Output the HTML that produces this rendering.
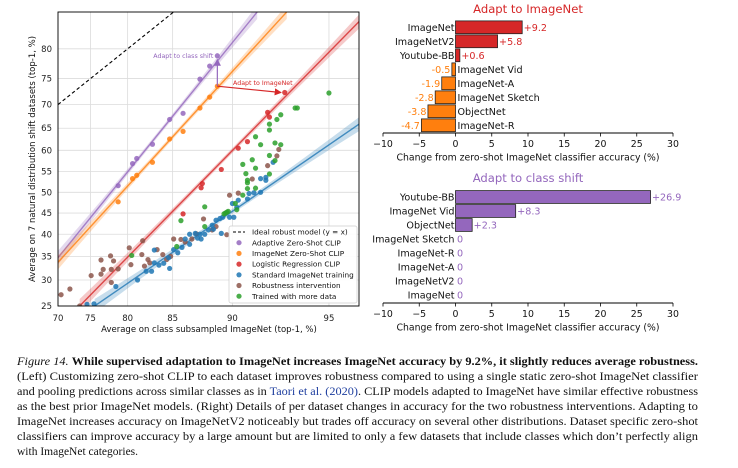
<!DOCTYPE html>
<html><head><meta charset="utf-8"><style>
html,body{margin:0;padding:0;background:#fff;}
svg{display:block;}
text{font-family:"DejaVu Sans","Liberation Sans",sans-serif;}
.cap{font-family:"Liberation Serif",serif;font-size:11.5px;fill:#111;}
</style></head><body>
<svg id="fig" width="738" height="468" viewBox="0 0 738 468" xmlns="http://www.w3.org/2000/svg">
<defs>
<clipPath id="clipS"><rect x="58" y="12" width="301" height="294"/></clipPath>
<marker id="ahP" markerWidth="6" markerHeight="6" refX="5" refY="3" orient="auto"><path d="M0,0 L6,3 L0,6 z" fill="#9467bd"/></marker>
<marker id="ahR" markerWidth="6" markerHeight="6" refX="5" refY="3" orient="auto"><path d="M0,0 L6,3 L0,6 z" fill="#d62728"/></marker>
</defs>
<g id="scatter"></g>
<g id="bars1"></g>
<g id="bars2"></g>
<g>
<text class="cap" x="17" y="365" textLength="681" lengthAdjust="spacingAndGlyphs"><tspan font-style="italic">Figure 14.</tspan> <tspan font-weight="bold">While supervised adaptation to ImageNet increases ImageNet accuracy by 9.2%, it slightly reduces average robustness.</tspan></text>
<text class="cap" x="17" y="380" textLength="681" lengthAdjust="spacingAndGlyphs">(Left) Customizing zero-shot CLIP to each dataset improves robustness compared to using a single static zero-shot ImageNet classifier</text>
<text class="cap" x="17" y="395" textLength="681" lengthAdjust="spacingAndGlyphs">and pooling predictions across similar classes as in <tspan fill="#1f3f9f">Taori et al. (2020)</tspan>. CLIP models adapted to ImageNet have similar effective robustness</text>
<text class="cap" x="17" y="410" textLength="681" lengthAdjust="spacingAndGlyphs">as the best prior ImageNet models. (Right) Details of per dataset changes in accuracy for the two robustness interventions. Adapting to</text>
<text class="cap" x="17" y="425" textLength="681" lengthAdjust="spacingAndGlyphs">ImageNet increases accuracy on ImageNetV2 noticeably but trades off accuracy on several other distributions. Dataset specific zero-shot</text>
<text class="cap" x="17" y="440" textLength="681" lengthAdjust="spacingAndGlyphs">classifiers can improve accuracy by a large amount but are limited to only a few datasets that include classes which don’t perfectly align</text>
<text class="cap" x="17" y="455">with ImageNet categories.</text>
</g>
</svg>
<script>
// ---------- scatter data (x = class-subsampled ImageNet %, y = 7-dataset avg %) ----------
const adaptiveX = [78.8,80.6,81.1,82.9,84.7,86.0,87.5,88.3,88.9];
const adaptiveY = [51.6,56.9,58.1,61.4,66.9,68.2,74.9,77.2,78.9];
const zeroShotX = [78.8,80.6,81.1,82.9,84.7,86.0,87.5,88.3,88.9];
const zeroShotY = [47.7,53.3,54.1,57.2,62.6,64.3,69.3,71.5,73.6];
const logregX = [86.0,87.6,87.7,89.2,90.4,91.0,92.2,92.3,93.1];
const logregY = [44.8,51.1,52.1,55.5,60.5,62.0,68.4,67.4,72.4];
const standardX = [74.5,75.5,78.5,81.2,82.2,82.8,83.1,83.6,84.1,84.6,85.1,85.5,85.9,86.2,86.6,87.1,87.3,87.6,87.9,88.2,88.5,88.8,89.1,89.3,89.8,90.1,90.0,90.4,90.3,91.0,91.1,91.4,91.8,91.8,92.1,92.1,92.5,89.2,83.1,84.7,88.6,87.5,86.6];
const standardY = [25.3,25.4,28.7,30.0,31.8,31.8,33.6,33.1,33.5,34.7,36.5,35.8,37.0,38.9,37.7,40.2,39.1,38.9,40.0,41.0,42.1,43.3,43.7,44.0,44.0,44.0,47.3,48.1,46.4,48.4,49.7,49.9,50.0,53.3,53.6,52.9,57.2,40.2,36.4,32.4,41.2,40.0,40.0];
const robustX = [70.5,71.9,73.4,75.1,76.5,76.5,76.8,77.8,77.9,78.2,77.9,78.8,80.2,80.4,81.7,81.8,82.0,82.4,82.6,83.4,84.0,84.4,84.8,85.1,85.8,86.2,86.8,87.2,87.8,88.5,88.8,89.6,89.8,90.4,91.3,92.2,92.7,92.8];
const robustY = [27.1,28.2,25.0,30.9,34.2,31.2,32.2,35.1,32.2,34.0,29.5,32.3,36.9,33.2,35.4,38.5,32.9,34.3,33.6,36.5,35.4,34.3,35.0,38.9,38.8,38.2,38.9,40.1,43.6,41.0,41.8,39.9,49.3,49.8,53.2,56.4,58.7,60.2];
const moreDataX = [95.0,93.6,93.7,92.9,92.7,92.3,92.3,91.5,91.8,92.6,92.9,92.3,92.6,91.3,91.5,90.7,90.9,91.0,91.0,91.0,91.5,92.3,90.7,90.3,90.2,89.5,89.6,89.7,89.4,87.9,85.8,87.9,85.4,80.5];
const moreDataY = [72.3,69.3,69.3,67.9,66.9,65.9,64.6,63.1,61.3,61.7,61.3,58.8,57.6,57.8,55.8,56.7,54.5,52.9,52.3,50.9,51.0,54.4,49.3,45.8,47.3,45.0,45.2,45.4,44.8,46.5,43.2,41.8,37.2,35.2];
// fitted trend lines: [x0,y0,x1,y1] in %
const fitAdaptive = [70,34.7,91.6,85.1];
const fitZeroShot = [70,33.7,93.2,85.1];
const fitLogreg = [73.4,25,96.0,83.9];
const fitStandard = [75.6,25,96.0,65.9];
const xTicks = [70,75,80,85,90,95];
const yTicks = [25,30,35,40,45,50,55,60,65,70,75,80];
const legendLabels = ["Ideal robust model (y = x)","Adaptive Zero-Shot CLIP","ImageNet Zero-Shot CLIP","Logistic Regression CLIP","Standard ImageNet training","Robustness intervention","Trained with more data"];

// ---------- bar data ----------
const imnetCats = ["ImageNet","ImageNetV2","Youtube-BB","ImageNet Vid","ImageNet-A","ImageNet Sketch","ObjectNet","ImageNet-R"];
const imnetVals = [9.2,5.8,0.6,-0.5,-1.9,-2.8,-3.8,-4.7];
const classCats = ["Youtube-BB","ImageNet Vid","ObjectNet","ImageNet Sketch","ImageNet-R","ImageNet-A","ImageNetV2","ImageNet"];
const classVals = [26.9,8.3,2.3,0,0,0,0,0];
const barTicks = [-10,-5,0,5,10,15,20,25,30];

const NS="http://www.w3.org/2000/svg";
function mk(parent,tag,attrs,txt){const e=document.createElementNS(NS,tag);for(const k in attrs)e.setAttribute(k,attrs[k]);if(txt!==undefined)e.textContent=txt;parent.appendChild(e);return e;}

// ---- scatter ----
const S=document.getElementById('scatter');
const lg=p=>Math.log(p/(100-p));
const X=p=>58+(lg(p)-lg(70))*129.2;
const Y=p=>306-(lg(p)-lg(25))*103.5;
xTicks.forEach(t=>{const l=mk(S,'line',{x1:X(t),x2:X(t),y1:12,y2:306,stroke:'#dcdcdc','stroke-width':0.8});


const tx=mk(S,'text',{x:X(t),y:321,'font-size':8.5,'text-anchor':'middle',fill:'#222'},t);

});
yTicks.forEach(t=>{const l=mk(S,'line',{x1:58,x2:359,y1:Y(t),y2:Y(t),stroke:'#dcdcdc','stroke-width':0.8});


const tx=mk(S,'text',{x:52,y:Y(t)+3,'font-size':8.5,'text-anchor':'end',fill:'#222'},t);

});
const P=mk(S,'g',{'clip-path':'url(#clipS)'});


// ideal line
const ideal=mk(P,'line',{x1:X(70),y1:Y(70),x2:X(86),y2:Y(86),stroke:'#000','stroke-width':1.1,'stroke-dasharray':'3.5,2.5'});


function fit(f,col,name){
  const x0=X(f[0]),y0=Y(f[1]),x1=X(f[2]),y1=Y(f[3]);
  const up=[],dn=[];
  for(let i=0;i<=20;i++){const t=i/20;const x=x0+(x1-x0)*t,y=y0+(y1-y0)*t;const w=2.5+9*Math.pow(Math.abs(t-0.5),2)*2;up.push(x+','+(y-w));dn.unshift(x+','+(y+w));}
  const b=mk(P,'polygon',{points:up.concat(dn).join(' '),fill:col,'fill-opacity':0.25});
  
  
  const l=mk(P,'line',{x1:x0,y1:y0,x2:x1,y2:y1,stroke:col,'stroke-width':1.4,'stroke-opacity':0.8});
  
  
}
fit(fitAdaptive,'#9467bd','adaptive-zero-shot');
fit(fitZeroShot,'#ff7f0e','imagenet-zero-shot');
fit(fitLogreg,'#d62728','logistic-regression');
fit(fitStandard,'#1f77b4','standard-training');
function pts(xs,ys,col,name){xs.forEach((x,i)=>{const c=mk(P,'circle',{cx:X(x),cy:Y(ys[i]),r:2.6,fill:col,'fill-opacity':0.85});

});}
pts(robustX,robustY,'#8c564b','robustness-intervention');
pts(standardX,standardY,'#1f77b4','standard-imagenet');
pts(moreDataX,moreDataY,'#2ca02c','trained-more-data');
pts(logregX,logregY,'#d62728','logistic-regression');
pts(zeroShotX,zeroShotY,'#ff7f0e','imagenet-zero-shot');
pts(adaptiveX,adaptiveY,'#9467bd','adaptive-zero-shot');
// annotations
const zi=zeroShotX.length-1;
const a1=mk(S,'line',{x1:X(zeroShotX[zi]),y1:Y(zeroShotY[zi]),x2:X(adaptiveX[zi]),y2:Y(adaptiveY[zi])+4,stroke:'#9467bd','stroke-width':1.2,'marker-end':'url(#ahP)'});


const a2=mk(S,'line',{x1:X(zeroShotX[zi]),y1:Y(zeroShotY[zi]),x2:X(logregX[8])-4,y2:Y(logregY[8]),stroke:'#d62728','stroke-width':1.2,'marker-end':'url(#ahR)'});


const t1=mk(S,'text',{x:X(adaptiveX[zi])-4,y:Y(adaptiveY[zi])+2,'font-size':6.3,'text-anchor':'end',fill:'#9467bd'},'Adapt to class shift');


const t2=mk(S,'text',{x:233,y:85,'font-size':6.3,fill:'#d62728'},'Adapt to ImageNet');


// frame
const fr=mk(S,'rect',{x:58,y:12,width:301,height:294,fill:'none',stroke:'#000','stroke-width':0.9});


const xt=mk(S,'text',{x:209,y:332,'font-size':8.5,'text-anchor':'middle',fill:'#111'},'Average on class subsampled ImageNet (top-1, %)');


const yt=mk(S,'text',{x:0,y:0,'font-size':8.5,'text-anchor':'middle',fill:'#111',transform:'translate(35,159) rotate(-90)'},'Average on 7 natural distribution shift datasets (top-1, %)');


// legend
const L=mk(S,'g',{});


const lb=mk(L,'rect',{x:229,y:226,width:128,height:77,fill:'#fff','fill-opacity':0.9,stroke:'#ccc','stroke-width':0.7,rx:2});


const legCols=['#000','#9467bd','#ff7f0e','#d62728','#1f77b4','#8c564b','#2ca02c'];
legendLabels.forEach((s,i)=>{const y=232+i*10.7;
 if(i===0){const m=mk(L,'line',{x1:233,x2:245,y1:y,y2:y,stroke:'#000','stroke-width':1.1,'stroke-dasharray':'3,2'});
 
 }
 else{const m=mk(L,'circle',{cx:239,cy:y,r:2.6,fill:legCols[i],'fill-opacity':0.85});
 
 }
 const t=mk(L,'text',{x:252,y:y+2.6,'font-size':7.3,fill:'#111'},s);
 
 });

// ---- bar charts ----
function barChart(gid,cats,vals,cfg){
 const G=document.getElementById(gid);
 const BX=v=>455.5+v*7.25;
 const tt=mk(G,'text',{x:528,y:cfg.titleY,'font-size':11.6,'text-anchor':'middle',fill:cfg.titleCol},cfg.title);
 
 
 cats.forEach((c,i)=>{const cy=cfg.y0+i*14;const v=vals[i];
  const pos=v>=0;const col=pos?cfg.posCol:cfg.negCol;const tcol=pos?cfg.posText:cfg.negText;
  const r=mk(G,'rect',{x:Math.min(BX(0),BX(v)),y:cy-6.4,width:Math.abs(BX(v)-BX(0)),height:12.8,fill:col,stroke:'#222','stroke-width':0.8});
  
  
  const lab=mk(G,'text',{x:pos?BX(0)-1:BX(0)+2,y:cy+3.5,'font-size':9.6,'text-anchor':pos?'end':'start',fill:'#111'},c);
  
  
  const vs=v>0?'+'+v:(v===0?'0':String(v).replace('-','-'));
  const vl=mk(G,'text',{x:pos?BX(v)+1.5:BX(v)-1.5,y:cy+3.5,'font-size':9.6,'text-anchor':pos?'start':'end',fill:tcol},vs);
  
  });
 const ay=cfg.axisY;
 const ax=mk(G,'line',{x1:BX(-10),x2:BX(30),y1:ay,y2:ay,stroke:'#000','stroke-width':0.9});
 
 
 barTicks.forEach(t=>{const tk=mk(G,'line',{x1:BX(t),x2:BX(t),y1:ay,y2:ay+3.5,stroke:'#000','stroke-width':0.8});
  
  
  const tl=mk(G,'text',{x:BX(t),y:ay+14,'font-size':9.4,'text-anchor':'middle',fill:'#111'},t<0?'\u2212'+(-t):t);
  
  });
 const xl=mk(G,'text',{x:528,y:ay+27.5,'font-size':9.3,'text-anchor':'middle',fill:'#111'},'Change from zero-shot ImageNet classifier accuracy (%)');
 
 
}
barChart('bars1',imnetCats,imnetVals,{title:'Adapt to ImageNet',titleCol:'#d62728',titleY:13,y0:27.3,axisY:133,posCol:'#d62728',negCol:'#ff7f0e',posText:'#d62728',negText:'#ff7f0e'});
barChart('bars2',classCats,classVals,{title:'Adapt to class shift',titleCol:'#9467bd',titleY:182,y0:197,axisY:303,posCol:'#9467bd',negCol:'#9467bd',posText:'#9467bd',negText:'#9467bd'});
</script>
</body></html>
